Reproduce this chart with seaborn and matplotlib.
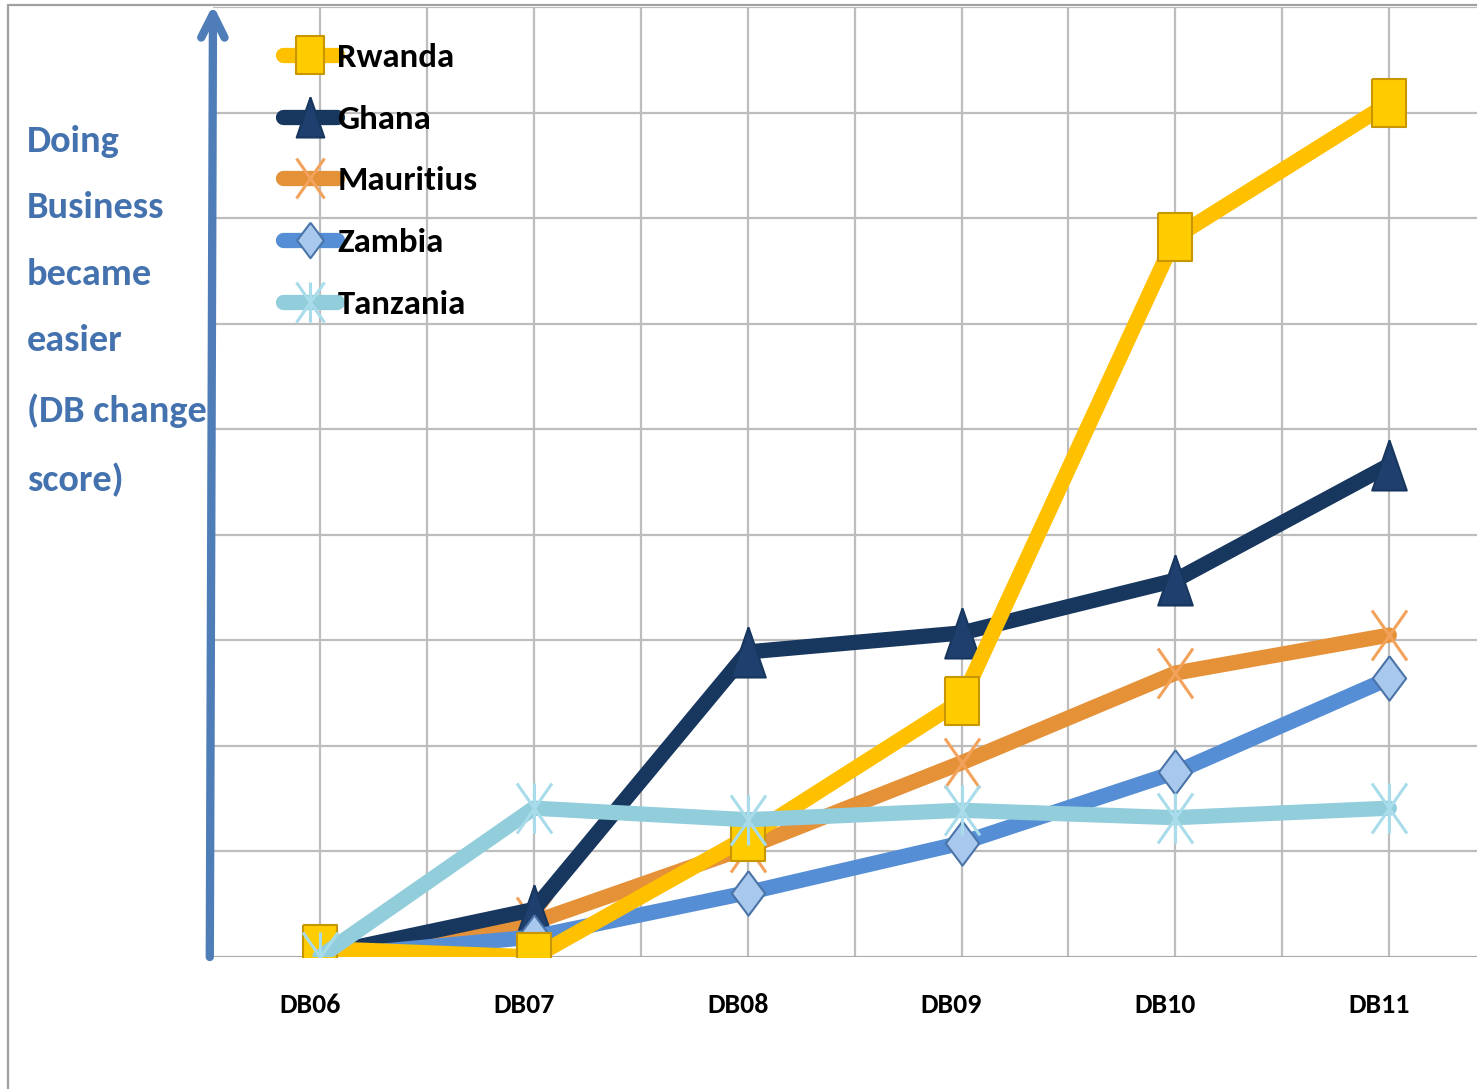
import numpy as np
import pandas as pd
import matplotlib
matplotlib.use("Agg")
import matplotlib.pyplot as plt
import matplotlib.transforms as mtransforms
from matplotlib.lines import Line2D
from matplotlib.path import Path
import seaborn as sns

sns.set_theme(style="white")
FONTS = ['Carlito', 'Roboto Condensed', 'DejaVu Sans']
plt.rcParams['font.family'] = FONTS

# data (DB change score, grid units)
rounds = ["DB06", "DB07", "DB08", "DB09", "DB10", "DB11"]
rwanda = [0.08, 0.0, 1.14, 2.43, 6.82, 8.09]
ghana = [0.02, 0.45, 2.89, 3.07, 3.57, 4.66]
mauritius = [0.0, 0.33, 1.04, 1.84, 2.69, 3.05]
zambia = [0.0, 0.19, 0.61, 1.08, 1.75, 2.64]
tanzania = [0.0, 1.41, 1.30, 1.39, 1.32, 1.41]

countries = ["Rwanda", "Ghana", "Mauritius", "Zambia", "Tanzania"]
values = [rwanda, ghana, mauritius, zambia, tanzania]

df = pd.DataFrame({"pos": list(np.arange(len(rounds))) * len(countries),
                   "country": np.repeat(countries, len(rounds)),
                   "score": np.concatenate(values)})

# marker shapes (Excel-like, slightly taller than wide)
tall_x = Path([(-0.7, 1), (0.7, -1), (0.7, 1), (-0.7, -1)],
              [Path.MOVETO, Path.LINETO, Path.MOVETO, Path.LINETO])
star = Path([(-0.7, 1), (0.7, -1), (0.7, 1), (-0.7, -1), (0, 1), (0, -1)],
            [Path.MOVETO, Path.LINETO, Path.MOVETO, Path.LINETO, Path.MOVETO, Path.LINETO])
diamond = Path([(0, 1), (0.75, 0), (0, -1), (-0.75, 0), (0, 1)])
rect = Path([(-0.74, 1), (0.74, 1), (0.74, -1), (-0.74, -1), (-0.74, 1)])
tri = Path([(0, 1), (0.69, -1), (-0.69, -1), (0, 1)])

styles = {
    "Rwanda":    dict(color="#FFC000", marker=rect, markersize=34, mfc="#FFCC00", mec="#C89600", mew=1.5, z=7),
    "Ghana":     dict(color="#17375E", marker=tri, markersize=36, mfc="#1F3F6E", mec="#17375E", mew=1.5, z=5),
    "Mauritius": dict(color="#E59138", marker=tall_x, markersize=36, mfc="none", mec="#F2A25A", mew=2.2, z=4),
    "Zambia":    dict(color="#558ED5", marker=diamond, markersize=32, mfc="#A9C8EE", mec="#4A74A8", mew=1.5, z=6),
    "Tanzania":  dict(color="#92CDDC", marker=star, markersize=36, mfc="none", mec="#A8DCEA", mew=2.2, z=8),
}

fig = plt.figure(figsize=(14.77, 10.89), dpi=100)
W, H = 1477, 1089
ax = fig.add_axes([213 / W, 1 - 957 / H, 1 - 213 / W, (957 - 7) / H])

handles = []
for c in countries:
    s = styles[c]
    sub = df[df.country == c]
    sns.lineplot(data=sub, x="pos", y="score", ax=ax, color=s["color"], lw=11,
                 marker=s["marker"], markersize=s["markersize"],
                 markerfacecolor=s["mfc"], markeredgecolor=s["mec"],
                 markeredgewidth=s["mew"], zorder=s["z"], legend=False)
    handles.append(Line2D([], [], color=s["color"], lw=11, solid_capstyle="round",
                          marker=s["marker"], markersize=s["markersize"] * 0.8,
                          markerfacecolor=s["mfc"], markeredgecolor=s["mec"],
                          markeredgewidth=s["mew"]))

ticks = np.arange(0, 5.1, 0.5)
ax.set_xticks(ticks)
ax.set_xticklabels([rounds[int(t)] if t == int(t) else "" for t in ticks],
                   fontsize=20, fontweight="bold", color="black")
ax.set_yticks(np.arange(0, 10, 1))
ax.set_yticklabels([])
ax.set_xlim(-0.5, 5.41)
ax.set_ylim(0, 9)
ax.tick_params(axis="both", length=0)
ax.tick_params(axis="x", pad=26)
shift = mtransforms.ScaledTranslation(-10 / 100, 0, fig.dpi_scale_trans)
for lab in ax.get_xticklabels():
    lab.set_transform(lab.get_transform() + shift)
ax.grid(True, color="#BDBDBD", lw=1.6)
ax.set_axisbelow(True)
for sp in ax.spines.values():
    sp.set_visible(False)
ax.axhline(0, color="#A8A8A8", lw=2, zorder=1)
ax.set_xlabel("")
ax.set_ylabel("")

leg = ax.legend(handles, countries, loc="upper left", bbox_to_anchor=(0.031, 0.995),
                frameon=False, handlelength=1.55, labelspacing=0.93, handletextpad=0.0,
                labelcolor="black", prop={"family": FONTS, "weight": "bold", "size": 25})

# y-axis arrow
ax.annotate("", xy=(-0.5, 9.02), xytext=(-0.515, 0.0), xycoords="data",
            arrowprops=dict(arrowstyle="->,head_length=1.4,head_width=0.7", color="#4F7DB8",
                            lw=6, shrinkA=0, shrinkB=0), annotation_clip=False, zorder=10)

fig.text(27 / W, 1 - 125 / H, "Doing\nBusiness\nbecame\neasier\n(DB change\nscore)",
         ha="left", va="top", fontsize=27.5, fontweight="bold", color="#4472AE", linespacing=2.24)

# outer frame
fig.add_artist(Line2D([8 / W, 8 / W], [0, 1 - 5 / H], color="#A0A0A0", lw=1.6))
fig.add_artist(Line2D([8 / W, 1], [1 - 5 / H, 1 - 5 / H], color="#A0A0A0", lw=1.6))

fig.savefig("out.png", dpi=100)
